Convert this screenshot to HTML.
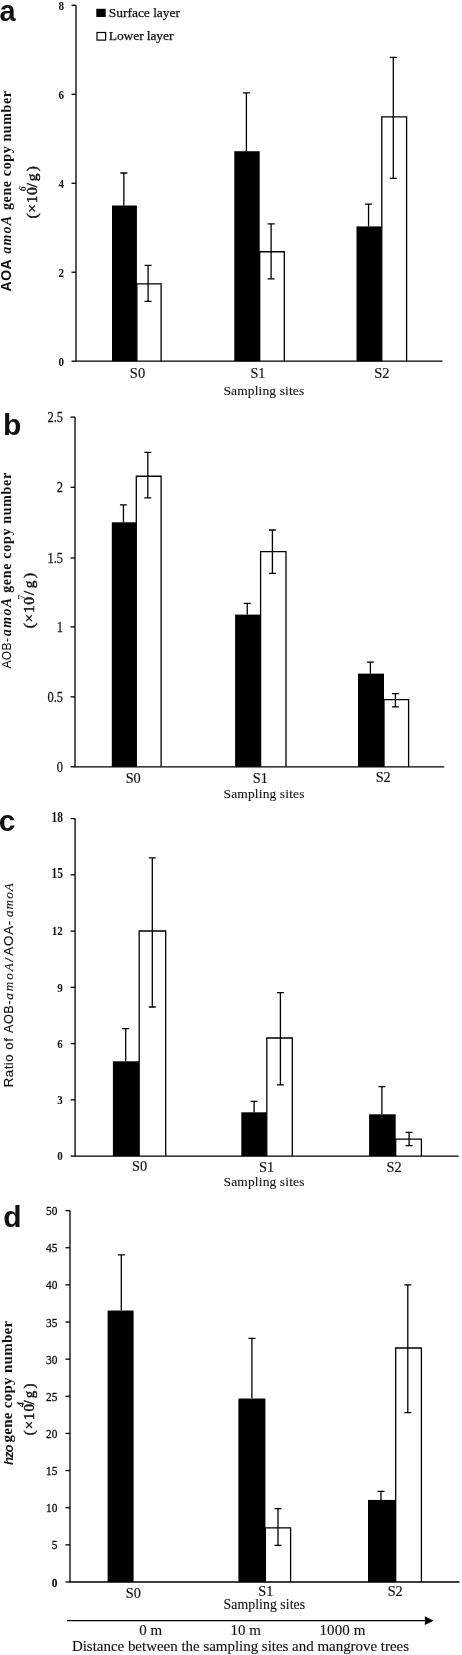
<!DOCTYPE html>
<html lang="en"><head><meta charset="utf-8"><title>Figure</title>
<style>
html,body{margin:0;padding:0;background:#fff}
svg{display:block;will-change:transform}
.fs{font-family:'Liberation Serif', 'DejaVu Serif', serif}
.fn{font-family:'Liberation Sans', 'DejaVu Sans', sans-serif}
text{fill:#111}
</style></head><body>
<svg width="462" height="1655" viewBox="0 0 462 1655">
<rect width="462" height="1655" fill="#fff"/>
<path d="M123.85 173.02V205.49M120.35 173.02H127.35" fill="none" stroke="#000" stroke-width="1.3"/>
<rect x="112.0" y="205.49" width="24.9" height="155.71" fill="#000"/>
<path d="M136.9 361.2V283.79H161.1V361.2" fill="#fff" stroke="#000" stroke-width="1.3"/>
<path d="M148.1 265.33V301.36M144.6 265.33H151.6M144.6 301.36H151.6" fill="none" stroke="#000" stroke-width="1.3"/>
<path d="M246.4 92.94V151.22M242.9 92.94H249.9" fill="none" stroke="#000" stroke-width="1.3"/>
<rect x="234.3" y="151.22" width="25.4" height="209.98" fill="#000"/>
<path d="M259.7 361.2V251.76H284.3V361.2" fill="#fff" stroke="#000" stroke-width="1.3"/>
<path d="M271.1 223.96V278.9M267.6 223.96H274.6M267.6 278.9H274.6" fill="none" stroke="#000" stroke-width="1.3"/>
<path d="M368.55 204.16V226.4M365.05 204.16H372.05" fill="none" stroke="#000" stroke-width="1.3"/>
<rect x="356.5" y="226.4" width="25.3" height="134.8" fill="#000"/>
<path d="M381.8 361.2V116.96H406.6V361.2" fill="#fff" stroke="#000" stroke-width="1.3"/>
<path d="M393.3 57.35V178.36M389.8 57.35H396.8M389.8 178.36H396.8" fill="none" stroke="#000" stroke-width="1.3"/>
<path d="M76 5.3V361.2H442.5" fill="none" stroke="#000" stroke-width="1.3"/>
<line x1="71.5" y1="361.2" x2="76" y2="361.2" stroke="#000" stroke-width="1.3"/>
<line x1="71.5" y1="272.23" x2="76" y2="272.23" stroke="#000" stroke-width="1.3"/>
<line x1="71.5" y1="183.25" x2="76" y2="183.25" stroke="#000" stroke-width="1.3"/>
<line x1="71.5" y1="94.28" x2="76" y2="94.28" stroke="#000" stroke-width="1.3"/>
<line x1="71.5" y1="5.3" x2="76" y2="5.3" stroke="#000" stroke-width="1.3"/>
<text class="fs" x="0" y="0" font-size="13.5" text-anchor="end" font-weight="bold" transform="translate(64.0,365.59999999999997) scale(0.82,1)">0</text>
<text class="fs" x="0" y="0" font-size="13.5" text-anchor="end" font-weight="bold" transform="translate(64.0,276.63) scale(0.82,1)">2</text>
<text class="fs" x="0" y="0" font-size="13.5" text-anchor="end" font-weight="bold" transform="translate(64.0,187.65) scale(0.82,1)">4</text>
<text class="fs" x="0" y="0" font-size="13.5" text-anchor="end" font-weight="bold" transform="translate(64.0,98.68) scale(0.82,1)">6</text>
<text class="fs" x="0" y="0" font-size="13.5" text-anchor="end" font-weight="bold" transform="translate(64.0,9.7) scale(0.82,1)">8</text>
<text class="fs" x="137.5" y="377.5" font-size="14.5" text-anchor="middle" stroke="#111" stroke-width="0.15">S0</text>
<text class="fs" x="257.8" y="377.5" font-size="14" text-anchor="middle" stroke="#111" stroke-width="0.15">S1</text>
<text class="fs" x="381.8" y="377.5" font-size="14.5" text-anchor="middle" stroke="#111" stroke-width="0.15">S2</text>
<text class="fs" x="223.4" y="394.5" font-size="13.5" textLength="80.8" lengthAdjust="spacing" stroke="#111" stroke-width="0.1">Sampling sites</text>
<rect x="96.3" y="8.8" width="9.4" height="8.2" fill="#000"/>
<rect x="97" y="32.5" width="8.6" height="7.6" fill="#fff" stroke="#000" stroke-width="1.2"/>
<text class="fs" x="108.8" y="16.9" font-size="13.5" textLength="71.2" lengthAdjust="spacing" stroke="#111" stroke-width="0.25">Surface layer</text>
<text class="fs" x="108.8" y="40" font-size="13.5" textLength="64.6" lengthAdjust="spacing" stroke="#111" stroke-width="0.25">Lower layer</text>
<text class="fn" transform="translate(10.7,291.4) rotate(-90)" font-size="14" font-weight="bold" textLength="32" lengthAdjust="spacing">AOA</text>
<text class="fs" transform="translate(10.7,253.8) rotate(-90)" font-size="14" font-style="italic" font-weight="bold" textLength="38" lengthAdjust="spacing">amoA</text>
<text class="fs" transform="translate(10.7,210.0) rotate(-90)" font-size="14" font-weight="bold" textLength="119" lengthAdjust="spacing">gene copy number</text>
<text class="fs" transform="translate(36.7,218.5) rotate(-90)" font-size="15.5" stroke="#111" stroke-width="0.45" textLength="31.3" lengthAdjust="spacing">(×10</text>
<text class="fs" transform="translate(36.7,187.6) rotate(-90)" font-size="15.5" stroke="#111" stroke-width="0.45" textLength="21.5" lengthAdjust="spacing">/g)</text>
<text class="fs" transform="translate(26.3,191.2) rotate(-90)" font-size="10" font-style="italic" font-weight="bold">6</text>
<text class="fn" x="-0.6" y="20.8" font-size="29" font-weight="bold">a</text>
<path d="M123.45 504.8V522.29M119.95 504.8H126.95" fill="none" stroke="#000" stroke-width="1.3"/>
<rect x="111.8" y="522.29" width="24.5" height="244.51" fill="#000"/>
<path d="M136.3 766.8V476.27H161.1V766.8" fill="#fff" stroke="#000" stroke-width="1.3"/>
<path d="M147.8 452.35V497.95M144.3 452.35H151.3M144.3 497.95H151.3" fill="none" stroke="#000" stroke-width="1.3"/>
<path d="M247.25 603.42V614.61M243.75 603.42H250.75" fill="none" stroke="#000" stroke-width="1.3"/>
<rect x="235.1" y="614.61" width="25.5" height="152.19" fill="#000"/>
<path d="M260.6 766.8V551.66H286.0V766.8" fill="#fff" stroke="#000" stroke-width="1.3"/>
<path d="M272.4 529.98V573.35M268.9 529.98H275.9M268.9 573.35H275.9" fill="none" stroke="#000" stroke-width="1.3"/>
<path d="M370.4 662.17V673.64M366.9 662.17H373.9" fill="none" stroke="#000" stroke-width="1.3"/>
<rect x="358.0" y="673.64" width="26.0" height="93.16" fill="#000"/>
<path d="M384.0 766.8V699.66H408.6V766.8" fill="#fff" stroke="#000" stroke-width="1.3"/>
<path d="M395.4 693.64V706.93M391.9 693.64H398.9M391.9 706.93H398.9" fill="none" stroke="#000" stroke-width="1.3"/>
<path d="M75 417.1V766.8H444.3" fill="none" stroke="#000" stroke-width="1.3"/>
<line x1="70.5" y1="766.8" x2="75" y2="766.8" stroke="#000" stroke-width="1.3"/>
<line x1="70.5" y1="696.86" x2="75" y2="696.86" stroke="#000" stroke-width="1.3"/>
<line x1="70.5" y1="626.92" x2="75" y2="626.92" stroke="#000" stroke-width="1.3"/>
<line x1="70.5" y1="558.0" x2="75" y2="558.0" stroke="#000" stroke-width="1.3"/>
<line x1="70.5" y1="487.24" x2="75" y2="487.24" stroke="#000" stroke-width="1.3"/>
<line x1="70.5" y1="417.1" x2="75" y2="417.1" stroke="#000" stroke-width="1.3"/>
<text class="fs" x="0" y="0" font-size="14.5" text-anchor="end" transform="translate(63,771.7) scale(0.86,1)" stroke="#111" stroke-width="0.25">0</text>
<text class="fs" x="0" y="0" font-size="14.5" text-anchor="end" transform="translate(63,701.76) scale(0.86,1)" stroke="#111" stroke-width="0.25">0.5</text>
<text class="fs" x="0" y="0" font-size="14.5" text-anchor="end" transform="translate(63,631.82) scale(0.86,1)" stroke="#111" stroke-width="0.25">1</text>
<text class="fs" x="0" y="0" font-size="14.5" text-anchor="end" transform="translate(63,562.9) scale(0.86,1)" stroke="#111" stroke-width="0.25">1.5</text>
<text class="fs" x="0" y="0" font-size="14.5" text-anchor="end" transform="translate(63,492.14) scale(0.86,1)" stroke="#111" stroke-width="0.25">2</text>
<text class="fs" x="0" y="0" font-size="14.5" text-anchor="end" transform="translate(63,422.0) scale(0.86,1)" stroke="#111" stroke-width="0.25">2.5</text>
<text class="fs" x="133.2" y="783.3" font-size="14.3" text-anchor="middle" stroke="#111" stroke-width="0.15">S0</text>
<text class="fs" x="260.4" y="783.3" font-size="14.3" text-anchor="middle" stroke="#111" stroke-width="0.15">S1</text>
<text class="fs" x="383.2" y="782.4" font-size="14.3" text-anchor="middle" stroke="#111" stroke-width="0.15">S2</text>
<text class="fs" x="223.6" y="797.8" font-size="13.5" textLength="80.8" lengthAdjust="spacing" stroke="#111" stroke-width="0.1">Sampling sites</text>
<text class="fn" transform="translate(11.2,668.6) rotate(-90)" font-size="12" font-weight="normal" textLength="30.5" lengthAdjust="spacing">AOB-</text>
<text class="fs" transform="translate(11.2,636.2) rotate(-90)" font-size="14" font-style="italic" font-weight="bold" textLength="38.3" lengthAdjust="spacing">amoA</text>
<text class="fs" transform="translate(11.2,592.8) rotate(-90)" font-size="14" font-weight="bold" textLength="120" lengthAdjust="spacing">gene copy number</text>
<text class="fs" transform="translate(33.7,628.2) rotate(-90)" font-size="15.5" stroke="#111" stroke-width="0.45" textLength="31.3" lengthAdjust="spacing">(×10</text>
<text class="fs" transform="translate(33.7,595.2) rotate(-90)" font-size="15.5" stroke="#111" stroke-width="0.45" textLength="22.3" lengthAdjust="spacing">/g)</text>
<text class="fs" transform="translate(24.6,599.6) rotate(-90)" font-size="9.5">7</text>
<text class="fn" x="2.9" y="435.3" font-size="30" font-weight="bold">b</text>
<path d="M125.7 1028.7V1061.3M122.2 1028.7H129.2" fill="none" stroke="#000" stroke-width="1.3"/>
<rect x="112.9" y="1061.3" width="26.3" height="94.8" fill="#000"/>
<path d="M139.2 1156.1V931.0H165.7V1156.1" fill="#fff" stroke="#000" stroke-width="1.3"/>
<path d="M152.3 857.9V1007.0M148.8 857.9H155.8M148.8 1007.0H155.8" fill="none" stroke="#000" stroke-width="1.3"/>
<path d="M254.1 1101.4V1112.3M250.6 1101.4H257.6" fill="none" stroke="#000" stroke-width="1.3"/>
<rect x="241.3" y="1112.3" width="25.5" height="43.8" fill="#000"/>
<path d="M266.8 1156.1V1038.0H292.3V1156.1" fill="#fff" stroke="#000" stroke-width="1.3"/>
<path d="M280.4 992.6V1084.9M276.9 992.6H283.9M276.9 1084.9H283.9" fill="none" stroke="#000" stroke-width="1.3"/>
<path d="M381.9 1086.6V1114.3M378.4 1086.6H385.4" fill="none" stroke="#000" stroke-width="1.3"/>
<rect x="369.1" y="1114.3" width="26.6" height="41.8" fill="#000"/>
<path d="M395.7 1156.1V1139.1H421.4V1156.1" fill="#fff" stroke="#000" stroke-width="1.3"/>
<path d="M409.1 1132.3V1145.7M405.6 1132.3H412.6M405.6 1145.7H412.6" fill="none" stroke="#000" stroke-width="1.3"/>
<path d="M75.1 818.6V1156.1H458.6" fill="none" stroke="#000" stroke-width="1.3"/>
<line x1="70.6" y1="1156.1" x2="75.1" y2="1156.1" stroke="#000" stroke-width="1.3"/>
<line x1="70.6" y1="1099.85" x2="75.1" y2="1099.85" stroke="#000" stroke-width="1.3"/>
<line x1="70.6" y1="1043.6" x2="75.1" y2="1043.6" stroke="#000" stroke-width="1.3"/>
<line x1="70.6" y1="987.35" x2="75.1" y2="987.35" stroke="#000" stroke-width="1.3"/>
<line x1="70.6" y1="931.1" x2="75.1" y2="931.1" stroke="#000" stroke-width="1.3"/>
<line x1="70.6" y1="874.85" x2="75.1" y2="874.85" stroke="#000" stroke-width="1.3"/>
<line x1="70.6" y1="818.6" x2="75.1" y2="818.6" stroke="#000" stroke-width="1.3"/>
<text class="fs" x="0" y="0" font-size="13.5" text-anchor="end" font-weight="bold" transform="translate(62.9,1160.3999999999999) scale(0.82,1)">0</text>
<text class="fs" x="0" y="0" font-size="13.5" text-anchor="end" font-weight="bold" transform="translate(62.9,1104.1499999999999) scale(0.82,1)">3</text>
<text class="fs" x="0" y="0" font-size="13.5" text-anchor="end" font-weight="bold" transform="translate(62.9,1047.8999999999999) scale(0.82,1)">6</text>
<text class="fs" x="0" y="0" font-size="13.5" text-anchor="end" font-weight="bold" transform="translate(62.9,991.65) scale(0.82,1)">9</text>
<text class="fs" x="0" y="0" font-size="13.5" text-anchor="end" font-weight="bold" transform="translate(62.9,935.4) scale(0.82,1)">12</text>
<text class="fs" x="0" y="0" font-size="14" text-anchor="end" font-weight="bold" transform="translate(62.9,878.45) scale(0.82,1)">15</text>
<text class="fs" x="0" y="0" font-size="14" text-anchor="end" font-weight="bold" transform="translate(62.9,822.2) scale(0.82,1)">18</text>
<text class="fs" x="139.5" y="1171" font-size="14.3" text-anchor="middle" stroke="#111" stroke-width="0.15">S0</text>
<text class="fs" x="266.5" y="1172.3" font-size="14.3" text-anchor="middle" stroke="#111" stroke-width="0.15">S1</text>
<text class="fs" x="394" y="1172.3" font-size="14.3" text-anchor="middle" stroke="#111" stroke-width="0.15">S2</text>
<text class="fs" x="223.6" y="1185.9" font-size="13.5" textLength="80.8" lengthAdjust="spacing" stroke="#111" stroke-width="0.1">Sampling sites</text>
<text class="fn" transform="translate(12.9,1087.3) rotate(-90)" font-size="13.3" stroke="#111" stroke-width="0.12" textLength="49.2" lengthAdjust="spacing">Ratio of</text>
<text class="fn" transform="translate(12.9,1033.1) rotate(-90)" font-size="12.6" stroke="#111" stroke-width="0.12" textLength="32.6" lengthAdjust="spacing">AOB-</text>
<text class="fs" transform="translate(12.9,999.7) rotate(-90)" font-size="13.2" font-style="italic" stroke="#111" stroke-width="0.12" textLength="36.6" lengthAdjust="spacing">amoA</text>
<text class="fn" transform="translate(12.9,961.4) rotate(-90)" font-size="11.5" font-style="italic" stroke="#111" stroke-width="0.12" textLength="4.2" lengthAdjust="spacing">/</text>
<text class="fn" transform="translate(12.9,955.7) rotate(-90)" font-size="13.3" stroke="#111" stroke-width="0.12" textLength="35" lengthAdjust="spacing">AOA-</text>
<text class="fs" transform="translate(12.9,917.1) rotate(-90)" font-size="13.2" font-style="italic" stroke="#111" stroke-width="0.12" textLength="34" lengthAdjust="spacing">amoA</text>
<text class="fn" x="-1.3" y="831" font-size="30" font-weight="bold">c</text>
<path d="M121.3 1254.87V1310.51M117.8 1254.87H124.8" fill="none" stroke="#000" stroke-width="1.3"/>
<rect x="107.6" y="1310.51" width="26.0" height="271.49" fill="#000"/>
<path d="M251.9 1338.36V1398.53M248.4 1338.36H255.4" fill="none" stroke="#000" stroke-width="1.3"/>
<rect x="238.4" y="1398.53" width="27.0" height="183.47" fill="#000"/>
<path d="M265.4 1582V1527.78H290.6V1582" fill="#fff" stroke="#000" stroke-width="1.3"/>
<path d="M278.0 1508.61V1545.38M274.5 1508.61H281.5M274.5 1545.38H281.5" fill="none" stroke="#000" stroke-width="1.3"/>
<path d="M381.0 1491.38V1499.92M377.5 1491.38H384.5" fill="none" stroke="#000" stroke-width="1.3"/>
<rect x="368.0" y="1499.92" width="27.7" height="82.08" fill="#000"/>
<path d="M395.7 1582V1348.02H421.4V1582" fill="#fff" stroke="#000" stroke-width="1.3"/>
<path d="M407.8 1284.88V1412.64M404.3 1284.88H411.3M404.3 1412.64H411.3" fill="none" stroke="#000" stroke-width="1.3"/>
<path d="M70 1210.6V1582H459.4" fill="none" stroke="#000" stroke-width="1.3"/>
<line x1="65.5" y1="1582.0" x2="70" y2="1582.0" stroke="#000" stroke-width="1.3"/>
<line x1="65.5" y1="1544.86" x2="70" y2="1544.86" stroke="#000" stroke-width="1.3"/>
<line x1="65.5" y1="1507.72" x2="70" y2="1507.72" stroke="#000" stroke-width="1.3"/>
<line x1="65.5" y1="1470.58" x2="70" y2="1470.58" stroke="#000" stroke-width="1.3"/>
<line x1="65.5" y1="1433.44" x2="70" y2="1433.44" stroke="#000" stroke-width="1.3"/>
<line x1="65.5" y1="1396.3" x2="70" y2="1396.3" stroke="#000" stroke-width="1.3"/>
<line x1="65.5" y1="1359.16" x2="70" y2="1359.16" stroke="#000" stroke-width="1.3"/>
<line x1="65.5" y1="1322.02" x2="70" y2="1322.02" stroke="#000" stroke-width="1.3"/>
<line x1="65.5" y1="1284.88" x2="70" y2="1284.88" stroke="#000" stroke-width="1.3"/>
<line x1="65.5" y1="1247.74" x2="70" y2="1247.74" stroke="#000" stroke-width="1.3"/>
<line x1="65.5" y1="1210.6" x2="70" y2="1210.6" stroke="#000" stroke-width="1.3"/>
<text class="fs" x="0" y="0" font-size="12" text-anchor="end" font-weight="bold" transform="translate(57.4,1586.6) scale(0.95,1)" stroke="#111" stroke-width="0.3">0</text>
<text class="fs" x="0" y="0" font-size="12" text-anchor="end" transform="translate(57.4,1549.4599999999998) scale(0.95,1)" stroke="#111" stroke-width="0.3">5</text>
<text class="fs" x="0" y="0" font-size="12" text-anchor="end" transform="translate(57.4,1512.32) scale(0.95,1)" stroke="#111" stroke-width="0.3">10</text>
<text class="fs" x="0" y="0" font-size="12" text-anchor="end" transform="translate(57.4,1475.1799999999998) scale(0.95,1)" stroke="#111" stroke-width="0.3">15</text>
<text class="fs" x="0" y="0" font-size="12" text-anchor="end" transform="translate(57.4,1438.04) scale(0.95,1)" stroke="#111" stroke-width="0.3">20</text>
<text class="fs" x="0" y="0" font-size="12" text-anchor="end" transform="translate(57.4,1400.8999999999999) scale(0.95,1)" stroke="#111" stroke-width="0.3">25</text>
<text class="fs" x="0" y="0" font-size="12" text-anchor="end" transform="translate(57.4,1363.76) scale(0.95,1)" stroke="#111" stroke-width="0.3">30</text>
<text class="fs" x="0" y="0" font-size="12" text-anchor="end" transform="translate(57.4,1326.62) scale(0.95,1)" stroke="#111" stroke-width="0.3">35</text>
<text class="fs" x="0" y="0" font-size="12" text-anchor="end" transform="translate(57.4,1289.48) scale(0.95,1)" stroke="#111" stroke-width="0.3">40</text>
<text class="fs" x="0" y="0" font-size="12" text-anchor="end" transform="translate(57.4,1252.34) scale(0.95,1)" stroke="#111" stroke-width="0.3">45</text>
<text class="fs" x="0" y="0" font-size="12" text-anchor="end" transform="translate(57.4,1215.1999999999998) scale(0.95,1)" stroke="#111" stroke-width="0.3">50</text>
<text class="fs" x="133.3" y="1597.5" font-size="14.3" text-anchor="middle" stroke="#111" stroke-width="0.15">S0</text>
<text class="fs" x="265.8" y="1595.5" font-size="14.3" text-anchor="middle" stroke="#111" stroke-width="0.15">S1</text>
<text class="fs" x="395.2" y="1595.5" font-size="14.3" text-anchor="middle" stroke="#111" stroke-width="0.15">S2</text>
<text class="fs" x="223.6" y="1609.4" font-size="13.8" textLength="81.5" lengthAdjust="spacing" stroke="#111" stroke-width="0.1">Sampling sites</text>
<text class="fn" transform="translate(13.0,1465) rotate(-90)" font-size="13.2" font-style="italic" font-weight="bold" textLength="20.6" lengthAdjust="spacing">hzo</text>
<text class="fs" transform="translate(12.0,1442.6) rotate(-90)" font-size="15" font-weight="bold" textLength="121.8" lengthAdjust="spacing">gene copy number</text>
<text class="fs" transform="translate(33.8,1435.3) rotate(-90)" font-size="15" stroke="#111" stroke-width="0.45" textLength="31.3" lengthAdjust="spacing">(×10</text>
<text class="fs" transform="translate(33.8,1404.4) rotate(-90)" font-size="15" stroke="#111" stroke-width="0.45" textLength="20.8" lengthAdjust="spacing">/g)</text>
<text class="fs" transform="translate(24.0,1407.0) rotate(-90)" font-size="10" font-style="italic" font-weight="bold">4</text>
<text class="fn" x="3.3" y="1227" font-size="30" font-weight="bold">d</text>
<line x1="67" y1="1620.7" x2="427" y2="1620.7" stroke="#000" stroke-width="1.2"/>
<path d="M424.8 1616.3L433.6 1620.7L424.8 1625.1Z" fill="#000"/>
<text class="fs" x="139.3" y="1635.3" font-size="15" stroke="#111" stroke-width="0.12">0 m</text>
<text class="fs" x="230.5" y="1635.3" font-size="15" stroke="#111" stroke-width="0.12">10 m</text>
<text class="fs" x="319.5" y="1635.3" font-size="15" textLength="46" lengthAdjust="spacing" stroke="#111" stroke-width="0.12">1000 m</text>
<text class="fs" x="71.9" y="1650.7" font-size="15" textLength="337.2" lengthAdjust="spacing" stroke="#111" stroke-width="0.12">Distance between the sampling sites and mangrove trees</text>
</svg>
</body></html>
